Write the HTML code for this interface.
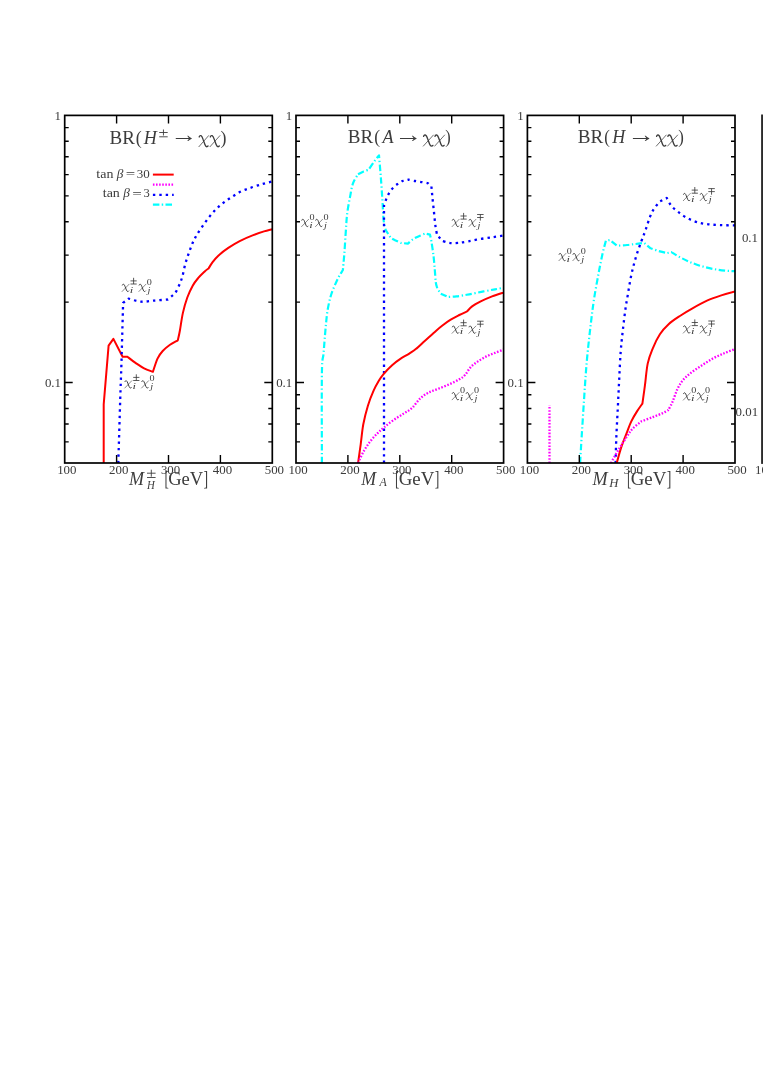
<!DOCTYPE html>
<html><head><meta charset="utf-8"><title>BR plots</title>
<style>html,body{margin:0;padding:0;background:#fff;}svg{display:block;will-change:transform;}text{font-family:"Liberation Serif",serif;fill:#3c3c3c;}.it{font-style:italic;}</style></head><body>
<svg width="763" height="1078" viewBox="0 0 763 1078">
<rect width="763" height="1078" fill="#fff"/>
<defs>
<filter id="gs" x="0" y="0" width="763" height="1078" filterUnits="userSpaceOnUse" color-interpolation-filters="sRGB"><feColorMatrix type="saturate" values="0"/></filter>
<clipPath id="c0"><rect x="64.70" y="115.40" width="207.60" height="347.60"/></clipPath>
<clipPath id="c1"><rect x="296.00" y="115.40" width="207.60" height="347.60"/></clipPath>
<clipPath id="c2"><rect x="527.40" y="115.40" width="207.60" height="347.60"/></clipPath>
</defs>
<path d="M103.7 463.0L103.7 404.3L108.6 345.7L113.4 338.9L122.6 356.8L127.5 356.8C128.8 357.8 132.7 361.0 135.5 362.9C138.3 364.8 141.2 366.9 144.1 368.4C147.0 369.9 151.4 371.2 152.9 371.8C153.7 369.6 155.9 362.1 157.5 358.6C159.1 355.1 160.6 353.3 162.7 351.0C164.8 348.7 167.5 346.6 170.0 344.8C172.5 343.0 176.5 341.1 177.8 340.3C178.2 338.6 179.2 334.6 180.0 330.0C180.8 325.4 181.7 318.3 182.9 312.9C184.1 307.5 185.7 302.0 187.3 297.5C188.9 293.0 190.9 289.0 192.7 285.7C194.5 282.4 196.3 280.3 198.3 277.9C200.3 275.5 203.0 273.0 204.7 271.4C206.4 269.8 207.9 268.9 208.6 268.4C209.3 267.3 211.0 264.2 212.6 262.1C214.2 260.0 215.7 258.1 218.3 255.7C220.9 253.3 224.7 250.3 228.3 247.9C231.9 245.5 235.6 243.2 239.7 241.1C243.8 239.0 248.5 237.0 252.6 235.4C256.6 233.8 260.7 232.4 264.0 231.4C267.3 230.4 270.9 229.6 272.3 229.2" fill="none" stroke="#ff0000" stroke-width="2.0" stroke-linejoin="round" clip-path="url(#c0)"/>
<path d="M118.3 463.0C118.6 452.5 119.7 416.4 120.2 400.0C120.7 383.6 121.0 377.4 121.4 364.3C121.8 351.2 122.3 331.6 122.6 321.4C122.9 311.2 123.0 306.0 123.1 302.9L128.6 298.6C130.7 299.1 136.7 301.4 141.0 301.7C145.3 302.0 149.8 301.0 154.3 300.6C158.8 300.2 165.6 299.7 167.9 299.5C168.7 298.8 171.1 296.8 172.5 295.5C173.9 294.2 174.9 293.6 176.1 291.6C177.3 289.6 178.8 286.1 179.9 283.5C181.0 280.9 181.7 279.0 182.6 275.7C183.5 272.4 184.4 267.1 185.4 263.5C186.4 259.9 187.4 257.1 188.5 254.0C189.6 250.8 190.8 247.4 191.9 244.6C193.1 241.8 193.7 240.2 195.4 237.3C197.1 234.4 199.5 230.6 201.9 227.1C204.3 223.6 207.0 219.7 209.7 216.4C212.4 213.1 215.2 209.9 218.3 207.1C221.4 204.2 224.7 201.8 228.3 199.3C231.9 196.8 235.9 194.1 239.7 192.1C243.5 190.1 247.3 188.9 251.1 187.6C254.9 186.2 259.1 185.0 262.6 184.0C266.1 183.0 270.7 181.8 272.3 181.4" fill="none" stroke="#0000ff" stroke-width="2.3" stroke-linejoin="round" stroke-dasharray="2.4 4.0" clip-path="url(#c0)"/>
<path d="M321.9 463.0C321.9 448.0 321.6 391.2 321.9 372.9C322.2 354.5 323.0 360.5 323.6 352.9C324.2 345.3 325.0 334.2 325.7 327.1C326.4 320.0 326.7 315.5 327.6 310.0C328.6 304.5 329.7 299.2 331.4 294.0C333.1 288.8 336.0 282.6 337.9 278.6C339.8 274.6 342.1 271.4 342.9 270.0C343.1 267.4 343.8 260.5 344.3 254.3C344.8 248.1 345.2 239.6 345.7 232.9C346.2 226.2 346.4 220.3 347.1 214.3C347.8 208.3 349.0 202.2 350.0 197.1C351.0 192.0 351.6 187.4 352.9 183.6C354.2 179.8 357.1 175.9 357.9 174.3C358.8 173.8 361.8 172.2 363.6 171.4C365.4 170.6 367.8 170.0 368.6 169.7C369.6 168.3 372.6 163.8 374.3 161.4C376.0 159.0 378.2 156.4 379.0 155.4C379.3 158.8 380.1 168.3 380.7 175.7C381.3 183.1 381.9 192.6 382.4 200.0C382.9 207.4 383.1 215.0 383.6 220.0C384.2 225.0 385.4 228.3 385.7 230.0L390.7 237.9C391.4 238.3 393.3 239.4 395.0 240.2C396.7 241.0 399.8 242.4 400.7 242.9L407.9 243.6C408.7 242.9 411.0 240.6 412.9 239.3C414.8 238.0 417.3 236.9 419.3 236.0C421.3 235.1 424.1 234.0 425.0 233.6L430.0 234.6C430.2 235.7 430.8 238.1 431.4 241.4C431.9 244.7 432.8 249.8 433.3 254.3C433.9 258.8 434.3 263.9 434.7 268.6C435.1 273.3 435.4 279.1 435.8 282.4C436.2 285.7 437.1 287.4 437.3 288.4L440.7 293.6L447.9 296.9C449.3 296.8 452.8 296.8 456.4 296.4C460.0 296.0 464.8 295.1 469.3 294.3C473.8 293.5 479.3 292.2 483.6 291.4C487.9 290.6 491.7 289.9 495.0 289.3C498.3 288.7 502.2 288.1 503.6 287.8" fill="none" stroke="#00ffff" stroke-width="2.2" stroke-linejoin="round" stroke-dasharray="6.4 2.6 1.3 2.5" clip-path="url(#c1)"/>
<path d="M384.0 463.0L384.0 205.7C384.4 204.5 385.5 200.7 386.4 198.6C387.3 196.5 388.1 194.8 389.3 192.9C390.5 191.0 392.1 188.7 393.6 187.1C395.2 185.5 397.2 184.3 398.6 183.3C400.0 182.3 401.5 181.5 402.1 181.1L408.6 179.6C409.7 179.8 412.8 180.6 415.0 181.0C417.2 181.4 419.9 181.7 422.1 182.1C424.3 182.5 427.1 183.1 428.1 183.3L431.4 186.4C431.6 188.2 432.0 192.9 432.4 197.1C432.8 201.3 433.4 206.6 433.9 211.4C434.4 216.2 434.9 221.8 435.4 225.7C435.9 229.6 436.8 233.4 437.1 235.0L442.1 240.7C443.3 241.1 446.7 242.5 449.3 242.9C451.9 243.3 454.8 243.2 457.9 242.9C461.0 242.7 464.1 242.1 467.9 241.4C471.7 240.7 476.4 239.6 480.7 238.9C485.0 238.2 489.8 237.7 493.6 237.1C497.4 236.5 501.9 235.8 503.6 235.5" fill="none" stroke="#0000ff" stroke-width="2.3" stroke-linejoin="round" stroke-dasharray="2.4 4.0" clip-path="url(#c1)"/>
<path d="M358.1 463.0C358.5 459.9 359.8 450.8 360.7 444.3C361.6 437.9 362.1 430.7 363.3 424.3C364.5 417.9 366.2 411.3 367.9 405.7C369.6 400.1 371.7 395.0 373.6 390.7C375.5 386.4 377.6 382.9 379.3 380.0C381.0 377.1 381.9 376.1 384.0 373.6C386.1 371.1 389.3 367.7 392.1 365.2C394.9 362.7 397.8 360.5 400.7 358.6C403.6 356.7 406.7 355.3 409.3 353.6C411.9 351.9 413.8 350.8 416.4 348.6C419.0 346.5 422.1 343.3 425.0 340.7C427.9 338.1 430.8 335.4 433.6 332.9C436.5 330.4 439.2 327.9 442.1 325.7C445.0 323.5 447.8 321.5 450.7 319.7C453.6 317.9 456.6 316.4 459.3 315.0C462.0 313.6 465.8 312.0 467.1 311.4C467.9 310.6 469.8 308.1 472.1 306.4C474.4 304.7 477.4 303.1 480.7 301.4C484.0 299.7 488.3 297.9 492.1 296.4C495.9 294.9 501.7 293.2 503.6 292.6" fill="none" stroke="#ff0000" stroke-width="2.0" stroke-linejoin="round" clip-path="url(#c1)"/>
<path d="M358.1 463.0C359.0 461.1 361.5 455.1 363.6 451.4C365.7 447.7 368.3 443.8 370.7 440.7C373.1 437.6 375.6 435.2 377.9 432.9C380.2 430.6 381.7 429.2 384.3 427.1C386.9 425.0 390.4 422.2 393.6 420.0C396.8 417.8 400.5 415.6 403.6 413.6C406.7 411.6 409.4 410.4 412.1 407.9C414.8 405.4 417.4 401.1 420.0 398.6C422.6 396.1 424.9 394.5 427.9 392.9C430.9 391.3 434.3 390.3 437.9 388.9C441.5 387.5 445.7 385.9 449.3 384.3C452.9 382.7 456.7 380.9 459.3 379.3C461.9 377.8 463.1 377.0 465.0 375.0C466.9 373.0 468.6 369.4 470.7 367.1C472.8 364.8 475.3 363.2 477.9 361.4C480.5 359.6 483.5 357.8 486.4 356.4C489.2 355.0 492.1 354.0 495.0 352.9C497.9 351.8 502.2 350.1 503.6 349.5" fill="none" stroke="#ff00ff" stroke-width="2.3" stroke-linejoin="round" stroke-dasharray="1.6 1.6" clip-path="url(#c1)"/>
<path d="M549.5 463.0L549.5 405.3" fill="none" stroke="#ff00ff" stroke-width="2.3" stroke-linejoin="round" stroke-dasharray="1.6 1.6" clip-path="url(#c2)"/>
<path d="M580.1 463.0C580.4 457.7 581.3 442.1 582.0 431.4C582.7 420.7 583.4 409.3 584.1 398.6C584.8 387.9 585.5 377.1 586.3 367.1C587.1 357.1 588.2 346.8 589.1 338.6C590.0 330.4 590.7 324.7 591.5 318.0C592.3 311.3 593.0 305.9 594.1 298.6C595.2 291.3 597.0 281.9 598.4 274.3C599.8 266.7 601.5 258.5 602.7 252.9C604.0 247.3 605.4 242.7 605.9 240.7L609.9 240.0L617.0 245.7C618.7 245.6 623.9 245.3 627.0 245.0C630.1 244.7 632.8 244.3 635.6 244.0C638.5 243.7 642.7 243.1 644.1 242.9L650.6 248.3C652.1 248.8 657.2 250.6 659.9 251.4C662.6 252.2 665.8 252.8 667.0 253.1L671.3 252.1C672.5 252.8 675.5 254.8 678.4 256.4C681.2 257.9 684.8 259.8 688.4 261.4C692.0 262.9 695.8 264.4 699.9 265.7C704.0 266.9 708.4 268.1 712.7 268.9C717.0 269.7 721.9 270.3 725.6 270.7C729.3 271.1 733.4 271.1 735.0 271.2" fill="none" stroke="#00ffff" stroke-width="2.2" stroke-linejoin="round" stroke-dasharray="6.4 2.6 1.3 2.5" clip-path="url(#c2)"/>
<path d="M615.6 463.0C615.7 458.9 615.9 447.4 616.3 438.6C616.6 429.8 617.2 419.5 617.7 410.0C618.2 400.5 618.6 390.9 619.1 381.4C619.6 371.9 620.0 361.2 620.6 352.9C621.2 344.6 621.9 338.5 622.7 331.4C623.5 324.2 624.6 315.3 625.3 310.0C626.0 304.7 626.0 305.1 627.0 299.5C628.0 293.9 629.6 283.4 631.0 276.5C632.4 269.6 633.9 264.1 635.6 258.2C637.3 252.3 639.6 246.1 641.3 241.4C643.0 236.7 644.2 234.1 645.6 230.0C647.0 225.9 648.5 220.7 649.9 217.1C651.3 213.5 652.4 211.2 654.1 208.6C655.8 206.0 658.9 202.6 659.9 201.4L666.7 197.9C667.5 199.2 669.3 203.3 671.3 205.7C673.2 208.1 675.8 210.1 678.4 212.1C681.0 214.1 683.9 216.2 687.0 217.9C690.1 219.6 693.4 221.0 697.0 222.1C700.6 223.2 704.4 223.8 708.4 224.3C712.4 224.8 716.9 224.9 721.3 225.1C725.7 225.3 732.7 225.3 735.0 225.4" fill="none" stroke="#0000ff" stroke-width="2.3" stroke-linejoin="round" stroke-dasharray="2.4 4.0" clip-path="url(#c2)"/>
<path d="M616.7 463.0C617.5 460.4 619.6 452.2 621.3 447.1C623.0 442.0 625.3 436.5 627.0 432.2C628.7 427.9 629.6 424.9 631.3 421.4C633.0 417.9 635.1 414.4 637.0 411.4C638.9 408.4 641.5 404.9 642.4 403.6C642.8 400.6 644.0 392.4 644.9 385.7C645.8 379.0 646.4 369.8 647.7 363.6C649.0 357.4 650.7 353.5 652.7 348.6C654.7 343.7 657.2 338.4 659.9 334.3C662.5 330.2 665.3 327.2 668.6 324.2C671.9 321.1 675.9 318.6 679.9 316.0C683.9 313.4 688.0 310.9 692.5 308.4C697.0 305.8 702.2 302.9 707.0 300.7C711.8 298.5 716.6 296.9 721.3 295.4C726.0 293.9 732.7 292.1 735.0 291.5" fill="none" stroke="#ff0000" stroke-width="2.0" stroke-linejoin="round" clip-path="url(#c2)"/>
<path d="M611.0 463.0C612.2 460.8 615.7 454.4 618.4 450.0C621.1 445.6 624.6 440.0 627.0 436.4C629.4 432.8 630.3 431.1 632.7 428.6C635.1 426.1 639.9 422.6 641.3 421.4C643.2 420.7 649.1 418.5 652.7 417.1C656.3 415.7 660.1 414.3 662.7 413.1C665.3 411.9 667.5 410.5 668.4 410.0C669.1 408.6 671.3 404.7 672.7 401.4C674.1 398.1 675.5 393.3 677.0 390.0C678.5 386.7 679.9 384.1 682.0 381.4C684.1 378.7 686.7 376.2 689.9 373.6C693.1 371.0 697.5 368.2 701.3 365.7C705.1 363.2 708.9 360.7 712.7 358.6C716.5 356.5 720.4 354.9 724.1 353.3C727.8 351.7 733.2 349.7 735.0 349.0" fill="none" stroke="#ff00ff" stroke-width="2.3" stroke-linejoin="round" stroke-dasharray="1.6 1.6" clip-path="url(#c2)"/>
<g stroke="#000" stroke-width="1.7" fill="none">
<rect x="64.70" y="115.40" width="207.60" height="347.60"/>
<path d="M64.70 127.63h4.0M272.30 127.63h-4.0M64.70 141.29h4.0M272.30 141.29h-4.0M64.70 156.79h4.0M272.30 156.79h-4.0M64.70 174.67h4.0M272.30 174.67h-4.0M64.70 195.83h4.0M272.30 195.83h-4.0M64.70 221.72h4.0M272.30 221.72h-4.0M64.70 255.10h4.0M272.30 255.10h-4.0M64.70 302.15h4.0M272.30 302.15h-4.0M64.70 394.80h4.0M272.30 394.80h-4.0M64.70 408.46h4.0M272.30 408.46h-4.0M64.70 423.96h4.0M272.30 423.96h-4.0M64.70 441.84h4.0M272.30 441.84h-4.0M64.70 382.57h8.0M272.30 382.57h-8.0M116.60 115.40v8M116.60 463.00v-8M168.50 115.40v8M168.50 463.00v-8M220.40 115.40v8M220.40 463.00v-8" stroke-width="1.4"/>
</g>
<g stroke="#000" stroke-width="1.7" fill="none">
<rect x="296.00" y="115.40" width="207.60" height="347.60"/>
<path d="M296.00 127.63h4.0M503.60 127.63h-4.0M296.00 141.29h4.0M503.60 141.29h-4.0M296.00 156.79h4.0M503.60 156.79h-4.0M296.00 174.67h4.0M503.60 174.67h-4.0M296.00 195.83h4.0M503.60 195.83h-4.0M296.00 221.72h4.0M503.60 221.72h-4.0M296.00 255.10h4.0M503.60 255.10h-4.0M296.00 302.15h4.0M503.60 302.15h-4.0M296.00 394.80h4.0M503.60 394.80h-4.0M296.00 408.46h4.0M503.60 408.46h-4.0M296.00 423.96h4.0M503.60 423.96h-4.0M296.00 441.84h4.0M503.60 441.84h-4.0M296.00 382.57h8.0M503.60 382.57h-8.0M347.90 115.40v8M347.90 463.00v-8M399.80 115.40v8M399.80 463.00v-8M451.70 115.40v8M451.70 463.00v-8" stroke-width="1.4"/>
</g>
<g stroke="#000" stroke-width="1.7" fill="none">
<rect x="527.40" y="115.40" width="207.60" height="347.60"/>
<path d="M527.40 127.63h4.0M735.00 127.63h-4.0M527.40 141.29h4.0M735.00 141.29h-4.0M527.40 156.79h4.0M735.00 156.79h-4.0M527.40 174.67h4.0M735.00 174.67h-4.0M527.40 195.83h4.0M735.00 195.83h-4.0M527.40 221.72h4.0M735.00 221.72h-4.0M527.40 255.10h4.0M735.00 255.10h-4.0M527.40 302.15h4.0M735.00 302.15h-4.0M527.40 394.80h4.0M735.00 394.80h-4.0M527.40 408.46h4.0M735.00 408.46h-4.0M527.40 423.96h4.0M735.00 423.96h-4.0M527.40 441.84h4.0M735.00 441.84h-4.0M527.40 382.57h8.0M735.00 382.57h-8.0M579.30 115.40v8M579.30 463.00v-8M631.20 115.40v8M631.20 463.00v-8M683.10 115.40v8M683.10 463.00v-8" stroke-width="1.4"/>
</g>
<rect x="761.1" y="114.50" width="3" height="349.40" fill="#2b2b2b"/>
<g filter="url(#gs)">
<text x="66.8" y="474.0" font-size="12.9" text-anchor="middle">100</text>
<text x="118.7" y="474.0" font-size="12.9" text-anchor="middle">200</text>
<text x="170.6" y="474.0" font-size="12.9" text-anchor="middle">300</text>
<text x="222.5" y="474.0" font-size="12.9" text-anchor="middle">400</text>
<text x="274.4" y="474.0" font-size="12.9" text-anchor="middle">500</text>
<text x="61.0" y="119.7" font-size="12.9" text-anchor="end">1</text>
<text x="61.0" y="387.0" font-size="12.9" text-anchor="end">0.1</text>
<text x="298.1" y="474.0" font-size="12.9" text-anchor="middle">100</text>
<text x="350.0" y="474.0" font-size="12.9" text-anchor="middle">200</text>
<text x="401.9" y="474.0" font-size="12.9" text-anchor="middle">300</text>
<text x="453.8" y="474.0" font-size="12.9" text-anchor="middle">400</text>
<text x="505.7" y="474.0" font-size="12.9" text-anchor="middle">500</text>
<text x="292.3" y="119.7" font-size="12.9" text-anchor="end">1</text>
<text x="292.3" y="387.0" font-size="12.9" text-anchor="end">0.1</text>
<text x="529.5" y="474.0" font-size="12.9" text-anchor="middle">100</text>
<text x="581.4" y="474.0" font-size="12.9" text-anchor="middle">200</text>
<text x="633.3" y="474.0" font-size="12.9" text-anchor="middle">300</text>
<text x="685.2" y="474.0" font-size="12.9" text-anchor="middle">400</text>
<text x="737.1" y="474.0" font-size="12.9" text-anchor="middle">500</text>
<text x="523.7" y="119.7" font-size="12.9" text-anchor="end">1</text>
<text x="523.7" y="387.0" font-size="12.9" text-anchor="end">0.1</text>
<text x="758.0" y="241.5" font-size="12.9" text-anchor="end">0.1</text>
<text x="758.1" y="415.6" font-size="12.9" text-anchor="end">0.01</text>
<text x="755.0" y="474.0" font-size="12.9">100</text>
<text transform="translate(109.55 143.90) scale(1.045 1)" font-size="18.20">BR</text><text transform="translate(135.81 143.70) scale(0.907 1)" font-size="19.74">(</text><text class="it" transform="translate(143.69 143.90) scale(0.996 1)" font-size="18.20">H</text><text transform="translate(170.28 142.40) scale(1.188 1)" font-size="22.75">→</text><g role="img" aria-label="χ" fill="none" stroke="#3c3c3c" stroke-linecap="round"><path d="M199.19 136.94C199.48 135.77 200.36 135.30 201.13 135.71C202.00 136.24 202.49 137.64 203.07 139.39L204.91 144.54C205.40 145.83 205.88 146.71 206.76 146.71C207.34 146.71 207.82 146.41 208.12 145.95" stroke-width="1.35"/><path d="M198.90 146.71L208.60 135.65" stroke-width="0.75"/></g><g role="img" aria-label="χ" fill="none" stroke="#3c3c3c" stroke-linecap="round"><path d="M210.30 136.94C210.59 135.77 211.49 135.30 212.28 135.71C213.17 136.24 213.66 137.64 214.26 139.39L216.14 144.54C216.63 145.83 217.13 146.71 218.02 146.71C218.61 146.71 219.11 146.41 219.41 145.95" stroke-width="1.35"/><path d="M210.00 146.71L219.90 135.65" stroke-width="0.75"/></g><text transform="translate(220.62 143.70) scale(0.907 1)" font-size="19.74">)</text>
<path d="M159.20 132.50H167.70M163.45 129.50V135.50M159.20 136.80H167.70" stroke="#3c3c3c" stroke-width="0.90" fill="none"/>
<text transform="translate(347.85 143.10) scale(1.045 1)" font-size="18.20">BR</text><text transform="translate(374.13 143.10) scale(0.888 1)" font-size="19.74">(</text><text class="it" transform="translate(382.39 143.10) scale(0.994 1)" font-size="18.20">A</text><text transform="translate(394.27 141.60) scale(1.233 1)" font-size="22.75">→</text><g role="img" aria-label="χ" fill="none" stroke="#3c3c3c" stroke-linecap="round"><path d="M423.60 136.34C423.91 135.17 424.81 134.70 425.62 135.11C426.53 135.64 427.04 137.04 427.64 138.79L429.56 143.94C430.07 145.23 430.57 146.11 431.48 146.11C432.09 146.11 432.59 145.81 432.89 145.35" stroke-width="1.35"/><path d="M423.30 146.11L433.40 135.05" stroke-width="0.75"/></g><g role="img" aria-label="χ" fill="none" stroke="#3c3c3c" stroke-linecap="round"><path d="M435.00 136.34C435.29 135.17 436.19 134.70 436.98 135.11C437.87 135.64 438.36 137.04 438.96 138.79L440.84 143.94C441.33 145.23 441.83 146.11 442.72 146.11C443.31 146.11 443.81 145.81 444.11 145.35" stroke-width="1.35"/><path d="M434.70 146.11L444.60 135.05" stroke-width="0.75"/></g><text transform="translate(445.27 143.10) scale(0.828 1)" font-size="19.74">)</text>
<text transform="translate(577.85 143.10) scale(1.049 1)" font-size="18.20">BR</text><text transform="translate(604.26 143.10) scale(0.848 1)" font-size="19.74">(</text><text class="it" transform="translate(612.29 143.10) scale(0.989 1)" font-size="18.20">H</text><text transform="translate(627.14 141.60) scale(1.218 1)" font-size="22.75">→</text><g role="img" aria-label="χ" fill="none" stroke="#3c3c3c" stroke-linecap="round"><path d="M656.60 136.34C656.89 135.17 657.78 134.70 658.58 135.11C659.47 135.64 659.96 137.04 660.56 138.79L662.44 143.94C662.93 145.23 663.43 146.11 664.32 146.11C664.91 146.11 665.41 145.81 665.71 145.35" stroke-width="1.35"/><path d="M656.30 146.11L666.20 135.05" stroke-width="0.75"/></g><g role="img" aria-label="χ" fill="none" stroke="#3c3c3c" stroke-linecap="round"><path d="M667.90 136.34C668.20 135.17 669.10 134.70 669.90 135.11C670.80 135.64 671.30 137.04 671.90 138.79L673.80 143.94C674.30 145.23 674.80 146.11 675.70 146.11C676.30 146.11 676.80 145.81 677.10 145.35" stroke-width="1.35"/><path d="M667.60 146.11L677.60 135.05" stroke-width="0.75"/></g><text transform="translate(678.36 143.10) scale(0.848 1)" font-size="19.74">)</text>
<text transform="translate(96.36 177.80) scale(1.183 1)" font-size="11.80">tan</text>
<text class="it" transform="translate(116.71 177.80) scale(1.124 1)" font-size="11.80">β</text>
<text transform="translate(125.87 178.40) scale(1.421 1)" font-size="11.80">=</text>
<text transform="translate(136.78 177.80) scale(1.103 1)" font-size="11.80">30</text>
<text transform="translate(102.76 197.40) scale(1.183 1)" font-size="11.80">tan</text>
<text class="it" transform="translate(123.21 197.40) scale(1.124 1)" font-size="11.80">β</text>
<text transform="translate(132.25 198.00) scale(1.439 1)" font-size="11.80">=</text>
<text transform="translate(143.50 197.40) scale(1.067 1)" font-size="11.80">3</text>
<g role="img" aria-label="χ" fill="none" stroke="#3c3c3c" stroke-linecap="round"><path d="M122.31 285.08C122.52 284.31 123.15 284.00 123.71 284.27C124.34 284.62 124.69 285.54 125.11 286.69L126.44 290.08C126.79 290.93 127.14 291.51 127.77 291.51C128.19 291.51 128.54 291.31 128.75 291.01" stroke-width="1.00"/><path d="M122.10 291.51L129.10 284.23" stroke-width="0.60"/></g><text class="it" transform="translate(129.80 292.60) scale(1.479 1)" font-size="8.46">i</text><path d="M130.50 280.90H136.70M133.60 277.80V284.00M130.50 284.00H136.70" stroke="#3c3c3c" stroke-width="0.85" fill="none"/><g role="img" aria-label="χ" fill="none" stroke="#3c3c3c" stroke-linecap="round"><path d="M139.11 285.08C139.32 284.31 139.95 284.00 140.51 284.27C141.14 284.62 141.49 285.54 141.91 286.69L143.24 290.08C143.59 290.93 143.94 291.51 144.57 291.51C144.99 291.51 145.34 291.31 145.55 291.01" stroke-width="1.00"/><path d="M138.90 291.51L145.90 284.23" stroke-width="0.60"/></g><text class="it" transform="translate(147.43 292.83) scale(1.198 1)" font-size="8.80">j</text><text transform="translate(146.81 284.72) scale(1.223 1)" font-size="8.30">0</text>
<g role="img" aria-label="χ" fill="none" stroke="#3c3c3c" stroke-linecap="round"><path d="M125.01 381.58C125.22 380.81 125.85 380.50 126.41 380.77C127.04 381.12 127.39 382.04 127.81 383.19L129.14 386.58C129.49 387.43 129.84 388.01 130.47 388.01C130.89 388.01 131.24 387.81 131.45 387.51" stroke-width="1.00"/><path d="M124.80 388.01L131.80 380.73" stroke-width="0.60"/></g><text class="it" transform="translate(132.50 389.10) scale(1.479 1)" font-size="8.46">i</text><path d="M133.20 377.40H139.40M136.30 374.30V380.50M133.20 380.50H139.40" stroke="#3c3c3c" stroke-width="0.85" fill="none"/><g role="img" aria-label="χ" fill="none" stroke="#3c3c3c" stroke-linecap="round"><path d="M141.81 381.58C142.02 380.81 142.65 380.50 143.21 380.77C143.84 381.12 144.19 382.04 144.61 383.19L145.94 386.58C146.29 387.43 146.64 388.01 147.27 388.01C147.69 388.01 148.04 387.81 148.25 387.51" stroke-width="1.00"/><path d="M141.60 388.01L148.60 380.73" stroke-width="0.60"/></g><text class="it" transform="translate(150.13 389.33) scale(1.198 1)" font-size="8.80">j</text><text transform="translate(149.51 381.22) scale(1.223 1)" font-size="8.30">0</text>
<g role="img" aria-label="χ" fill="none" stroke="#3c3c3c" stroke-linecap="round"><path d="M301.81 220.18C302.02 219.41 302.65 219.10 303.21 219.37C303.84 219.72 304.19 220.64 304.61 221.79L305.94 225.18C306.29 226.03 306.64 226.61 307.27 226.61C307.69 226.61 308.04 226.41 308.25 226.11" stroke-width="1.00"/><path d="M301.60 226.61L308.60 219.33" stroke-width="0.60"/></g><text class="it" transform="translate(309.30 227.70) scale(1.479 1)" font-size="8.46">i</text><text transform="translate(309.51 219.82) scale(1.223 1)" font-size="8.30">0</text><g role="img" aria-label="χ" fill="none" stroke="#3c3c3c" stroke-linecap="round"><path d="M315.71 220.18C315.92 219.41 316.55 219.10 317.11 219.37C317.74 219.72 318.09 220.64 318.51 221.79L319.84 225.18C320.19 226.03 320.54 226.61 321.17 226.61C321.59 226.61 321.94 226.41 322.15 226.11" stroke-width="1.00"/><path d="M315.50 226.61L322.50 219.33" stroke-width="0.60"/></g><text class="it" transform="translate(324.03 227.93) scale(1.198 1)" font-size="8.80">j</text><text transform="translate(323.41 219.82) scale(1.223 1)" font-size="8.30">0</text>
<g role="img" aria-label="χ" fill="none" stroke="#3c3c3c" stroke-linecap="round"><path d="M452.31 220.18C452.52 219.41 453.15 219.10 453.71 219.37C454.34 219.72 454.69 220.64 455.11 221.79L456.44 225.18C456.79 226.03 457.14 226.61 457.77 226.61C458.19 226.61 458.54 226.41 458.75 226.11" stroke-width="1.00"/><path d="M452.10 226.61L459.10 219.33" stroke-width="0.60"/></g><text class="it" transform="translate(459.80 227.70) scale(1.479 1)" font-size="8.46">i</text><path d="M460.50 216.00H466.70M463.60 212.90V219.10M460.50 219.10H466.70" stroke="#3c3c3c" stroke-width="0.85" fill="none"/><g role="img" aria-label="χ" fill="none" stroke="#3c3c3c" stroke-linecap="round"><path d="M469.11 220.18C469.32 219.41 469.95 219.10 470.51 219.37C471.14 219.72 471.49 220.64 471.91 221.79L473.24 225.18C473.59 226.03 473.94 226.61 474.57 226.61C474.99 226.61 475.34 226.41 475.55 226.11" stroke-width="1.00"/><path d="M468.90 226.61L475.90 219.33" stroke-width="0.60"/></g><text class="it" transform="translate(477.43 227.93) scale(1.198 1)" font-size="8.80">j</text><path d="M477.10 217.50H483.60M480.35 214.40V220.60M477.10 214.50H483.60" stroke="#3c3c3c" stroke-width="0.85" fill="none"/>
<g role="img" aria-label="χ" fill="none" stroke="#3c3c3c" stroke-linecap="round"><path d="M452.31 326.88C452.52 326.11 453.15 325.80 453.71 326.07C454.34 326.42 454.69 327.34 455.11 328.50L456.44 331.88C456.79 332.73 457.14 333.31 457.77 333.31C458.19 333.31 458.54 333.12 458.75 332.81" stroke-width="1.00"/><path d="M452.10 333.31L459.10 326.03" stroke-width="0.60"/></g><text class="it" transform="translate(459.80 334.40) scale(1.479 1)" font-size="8.46">i</text><path d="M460.50 322.70H466.70M463.60 319.60V325.80M460.50 325.80H466.70" stroke="#3c3c3c" stroke-width="0.85" fill="none"/><g role="img" aria-label="χ" fill="none" stroke="#3c3c3c" stroke-linecap="round"><path d="M469.11 326.88C469.32 326.11 469.95 325.80 470.51 326.07C471.14 326.42 471.49 327.34 471.91 328.50L473.24 331.88C473.59 332.73 473.94 333.31 474.57 333.31C474.99 333.31 475.34 333.12 475.55 332.81" stroke-width="1.00"/><path d="M468.90 333.31L475.90 326.03" stroke-width="0.60"/></g><text class="it" transform="translate(477.43 334.63) scale(1.198 1)" font-size="8.80">j</text><path d="M477.10 324.20H483.60M480.35 321.10V327.30M477.10 321.20H483.60" stroke="#3c3c3c" stroke-width="0.85" fill="none"/>
<g role="img" aria-label="χ" fill="none" stroke="#3c3c3c" stroke-linecap="round"><path d="M452.31 393.38C452.52 392.61 453.15 392.30 453.71 392.57C454.34 392.92 454.69 393.84 455.11 395.00L456.44 398.38C456.79 399.23 457.14 399.81 457.77 399.81C458.19 399.81 458.54 399.62 458.75 399.31" stroke-width="1.00"/><path d="M452.10 399.81L459.10 392.53" stroke-width="0.60"/></g><text class="it" transform="translate(459.80 400.90) scale(1.479 1)" font-size="8.46">i</text><text transform="translate(460.01 393.02) scale(1.223 1)" font-size="8.30">0</text><g role="img" aria-label="χ" fill="none" stroke="#3c3c3c" stroke-linecap="round"><path d="M466.21 393.38C466.42 392.61 467.05 392.30 467.61 392.57C468.24 392.92 468.59 393.84 469.01 395.00L470.34 398.38C470.69 399.23 471.04 399.81 471.67 399.81C472.09 399.81 472.44 399.62 472.65 399.31" stroke-width="1.00"/><path d="M466.00 399.81L473.00 392.53" stroke-width="0.60"/></g><text class="it" transform="translate(474.53 401.13) scale(1.198 1)" font-size="8.80">j</text><text transform="translate(473.91 393.02) scale(1.223 1)" font-size="8.30">0</text>
<g role="img" aria-label="χ" fill="none" stroke="#3c3c3c" stroke-linecap="round"><path d="M559.11 254.28C559.32 253.51 559.95 253.20 560.51 253.47C561.14 253.82 561.49 254.74 561.91 255.89L563.24 259.28C563.59 260.13 563.94 260.71 564.57 260.71C564.99 260.71 565.34 260.51 565.55 260.21" stroke-width="1.00"/><path d="M558.90 260.71L565.90 253.43" stroke-width="0.60"/></g><text class="it" transform="translate(566.60 261.80) scale(1.479 1)" font-size="8.46">i</text><text transform="translate(566.81 253.92) scale(1.223 1)" font-size="8.30">0</text><g role="img" aria-label="χ" fill="none" stroke="#3c3c3c" stroke-linecap="round"><path d="M573.01 254.28C573.22 253.51 573.85 253.20 574.41 253.47C575.04 253.82 575.39 254.74 575.81 255.89L577.14 259.28C577.49 260.13 577.84 260.71 578.47 260.71C578.89 260.71 579.24 260.51 579.45 260.21" stroke-width="1.00"/><path d="M572.80 260.71L579.80 253.43" stroke-width="0.60"/></g><text class="it" transform="translate(581.33 262.03) scale(1.198 1)" font-size="8.80">j</text><text transform="translate(580.71 253.92) scale(1.223 1)" font-size="8.30">0</text>
<g role="img" aria-label="χ" fill="none" stroke="#3c3c3c" stroke-linecap="round"><path d="M683.51 194.28C683.72 193.51 684.35 193.20 684.91 193.47C685.54 193.82 685.89 194.74 686.31 195.89L687.64 199.28C687.99 200.13 688.34 200.71 688.97 200.71C689.39 200.71 689.74 200.51 689.95 200.21" stroke-width="1.00"/><path d="M683.30 200.71L690.30 193.43" stroke-width="0.60"/></g><text class="it" transform="translate(691.00 201.80) scale(1.479 1)" font-size="8.46">i</text><path d="M691.70 190.10H697.90M694.80 187.00V193.20M691.70 193.20H697.90" stroke="#3c3c3c" stroke-width="0.85" fill="none"/><g role="img" aria-label="χ" fill="none" stroke="#3c3c3c" stroke-linecap="round"><path d="M700.31 194.28C700.52 193.51 701.15 193.20 701.71 193.47C702.34 193.82 702.69 194.74 703.11 195.89L704.44 199.28C704.79 200.13 705.14 200.71 705.77 200.71C706.19 200.71 706.54 200.51 706.75 200.21" stroke-width="1.00"/><path d="M700.10 200.71L707.10 193.43" stroke-width="0.60"/></g><text class="it" transform="translate(708.63 202.03) scale(1.198 1)" font-size="8.80">j</text><path d="M708.30 191.60H714.80M711.55 188.50V194.70M708.30 188.60H714.80" stroke="#3c3c3c" stroke-width="0.85" fill="none"/>
<g role="img" aria-label="χ" fill="none" stroke="#3c3c3c" stroke-linecap="round"><path d="M683.51 326.68C683.72 325.91 684.35 325.60 684.91 325.87C685.54 326.22 685.89 327.14 686.31 328.30L687.64 331.68C687.99 332.53 688.34 333.11 688.97 333.11C689.39 333.11 689.74 332.92 689.95 332.61" stroke-width="1.00"/><path d="M683.30 333.11L690.30 325.83" stroke-width="0.60"/></g><text class="it" transform="translate(691.00 334.20) scale(1.479 1)" font-size="8.46">i</text><path d="M691.70 322.50H697.90M694.80 319.40V325.60M691.70 325.60H697.90" stroke="#3c3c3c" stroke-width="0.85" fill="none"/><g role="img" aria-label="χ" fill="none" stroke="#3c3c3c" stroke-linecap="round"><path d="M700.31 326.68C700.52 325.91 701.15 325.60 701.71 325.87C702.34 326.22 702.69 327.14 703.11 328.30L704.44 331.68C704.79 332.53 705.14 333.11 705.77 333.11C706.19 333.11 706.54 332.92 706.75 332.61" stroke-width="1.00"/><path d="M700.10 333.11L707.10 325.83" stroke-width="0.60"/></g><text class="it" transform="translate(708.63 334.43) scale(1.198 1)" font-size="8.80">j</text><path d="M708.30 324.00H714.80M711.55 320.90V327.10M708.30 321.00H714.80" stroke="#3c3c3c" stroke-width="0.85" fill="none"/>
<g role="img" aria-label="χ" fill="none" stroke="#3c3c3c" stroke-linecap="round"><path d="M683.51 393.68C683.72 392.91 684.35 392.60 684.91 392.87C685.54 393.22 685.89 394.14 686.31 395.30L687.64 398.68C687.99 399.53 688.34 400.11 688.97 400.11C689.39 400.11 689.74 399.92 689.95 399.61" stroke-width="1.00"/><path d="M683.30 400.11L690.30 392.83" stroke-width="0.60"/></g><text class="it" transform="translate(691.00 401.20) scale(1.479 1)" font-size="8.46">i</text><text transform="translate(691.21 393.32) scale(1.223 1)" font-size="8.30">0</text><g role="img" aria-label="χ" fill="none" stroke="#3c3c3c" stroke-linecap="round"><path d="M697.41 393.68C697.62 392.91 698.25 392.60 698.81 392.87C699.44 393.22 699.79 394.14 700.21 395.30L701.54 398.68C701.89 399.53 702.24 400.11 702.87 400.11C703.29 400.11 703.64 399.92 703.85 399.61" stroke-width="1.00"/><path d="M697.20 400.11L704.20 392.83" stroke-width="0.60"/></g><text class="it" transform="translate(705.73 401.43) scale(1.198 1)" font-size="8.80">j</text><text transform="translate(705.11 393.32) scale(1.223 1)" font-size="8.30">0</text>
<text class="it" transform="translate(129.11 484.60) scale(0.972 1)" font-size="18.60">M</text><text class="it" transform="translate(146.92 488.80) scale(0.822 1)" font-size="13.13">H</text><text transform="translate(164.43 485.41) scale(0.602 1)" font-size="21.63">[</text><text transform="translate(168.24 484.60) scale(0.996 1)" font-size="18.60">GeV</text><text transform="translate(203.60 485.41) scale(0.644 1)" font-size="21.63">]</text>
<path d="M147.00 473.20H155.60M151.30 469.70V476.70M147.00 477.50H155.60" stroke="#3c3c3c" stroke-width="0.90" fill="none"/>
<text class="it" transform="translate(361.31 484.60) scale(0.960 1)" font-size="18.60">M</text><text class="it" transform="translate(379.55 486.30) scale(0.907 1)" font-size="13.18">A</text><text transform="translate(394.93 485.41) scale(0.602 1)" font-size="21.63">[</text><text transform="translate(398.72 484.60) scale(1.016 1)" font-size="18.60">GeV</text><text transform="translate(434.70 485.41) scale(0.644 1)" font-size="21.63">]</text>
<text class="it" transform="translate(592.51 484.60) scale(0.978 1)" font-size="18.60">M</text><text class="it" transform="translate(609.14 486.50) scale(0.980 1)" font-size="12.98">H</text><text transform="translate(627.07 485.41) scale(0.581 1)" font-size="21.63">[</text><text transform="translate(630.72 484.60) scale(1.016 1)" font-size="18.60">GeV</text><text transform="translate(666.70 485.41) scale(0.644 1)" font-size="21.63">]</text>
</g>
<path d="M152.9 174.6H173.7" stroke="#ff0000" stroke-width="2.0"/>
<path d="M152.9 184.7H173.7" stroke="#ff00ff" stroke-width="2.3" stroke-dasharray="1.6 1.5"/>
<path d="M152.9 194.8H173.7" stroke="#0000ff" stroke-width="2.3" stroke-dasharray="2.4 4.0"/>
<path d="M152.9 204.7H172.0" stroke="#00ffff" stroke-width="2.2" stroke-dasharray="6.5 2.3 1.5 2.3"/>
</svg></body></html>
